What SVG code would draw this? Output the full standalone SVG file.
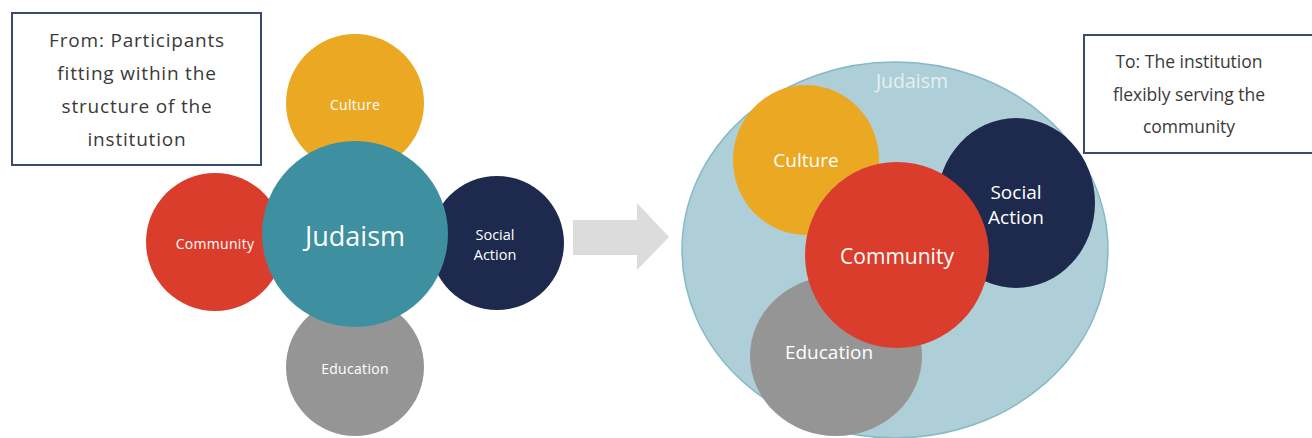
<svg xmlns="http://www.w3.org/2000/svg" width="1312" height="438" viewBox="0 0 1312 438">
<style>
.box{fill:#fff;stroke:#3b4a70;stroke-width:2}
.bt{font-family:"Open Sans","Liberation Sans",sans-serif;font-size:19px;letter-spacing:0.8px;fill:#3a3a3a;text-anchor:middle}
.bt2{font-family:"Open Sans","Liberation Sans",sans-serif;font-size:17.5px;fill:#3a3a3a;text-anchor:middle}
.wt{font-family:"Open Sans","Liberation Sans",sans-serif;fill:#fff;text-anchor:middle;dominant-baseline:central}
</style>
<rect width="1312" height="438" fill="#fff"/>
<g id="from-box">
<rect class="box" x="12" y="13" width="249" height="152"/>
<text class="bt" x="137" y="47">From: Participants</text>
<text class="bt" x="137" y="80">fitting within the</text>
<text class="bt" x="137" y="113">structure of the</text>
<text class="bt" x="137" y="146">institution</text>
</g>
<g id="left-culture"><circle cx="355" cy="103" r="69" fill="#eba823"/><text class="wt" x="355" y="104" font-size="14" letter-spacing="0.3">Culture</text></g>
<g id="left-community"><circle cx="215" cy="242" r="69" fill="#db3d2c"/><text class="wt" x="215" y="243" font-size="14" letter-spacing="0.3">Community</text></g>
<g id="left-education"><circle cx="355" cy="367" r="69" fill="#969595"/><text class="wt" x="355" y="368" font-size="14" letter-spacing="0.3">Education</text></g>
<g id="left-social"><circle cx="497" cy="243" r="67" fill="#1e2a4d"/><text class="wt" x="495" y="234" font-size="14.5">Social</text><text class="wt" x="495" y="254" font-size="14.5">Action</text></g>
<g id="left-judaism"><circle cx="355" cy="234" r="93" fill="#3e8fa0"/><text class="wt" x="355" y="235" font-size="27">Judaism</text></g>
<g id="connectors"><path d="M573 220 H637 V203 L669 237 L637 270 V255 H573 Z" fill="#dcdcdc"/></g>
<g id="right-judaism"><ellipse cx="895" cy="250" rx="213" ry="188" fill="#aecfd7" stroke="#86b9c6" stroke-width="1.5"/><text class="wt" x="912" y="80" font-size="19.5" style="fill:#e4f0f3">Judaism</text></g>
<g id="right-culture"><ellipse cx="806" cy="160" rx="73" ry="75" fill="#eba823"/><text class="wt" x="806" y="160" font-size="19">Culture</text></g>
<g id="right-social"><ellipse cx="1016" cy="203" rx="79" ry="85" fill="#1e2a4d"/><text class="wt" x="1016" y="192" font-size="19">Social</text><text class="wt" x="1016" y="217" font-size="19">Action</text></g>
<g id="right-education"><ellipse cx="836" cy="356" rx="86" ry="80" fill="#969595"/><text class="wt" x="829" y="352" font-size="19">Education</text></g>
<g id="right-community"><ellipse cx="897" cy="255" rx="92" ry="93" fill="#db3d2c"/><text class="wt" x="897" y="256" font-size="21">Community</text></g>
<g id="to-box">
<rect class="box" x="1084" y="35" width="236" height="118"/>
<text class="bt2" x="1189" y="68">To: The institution</text>
<text class="bt2" x="1189" y="101">flexibly serving the</text>
<text class="bt2" x="1189" y="133">community</text>
</g>
</svg>
